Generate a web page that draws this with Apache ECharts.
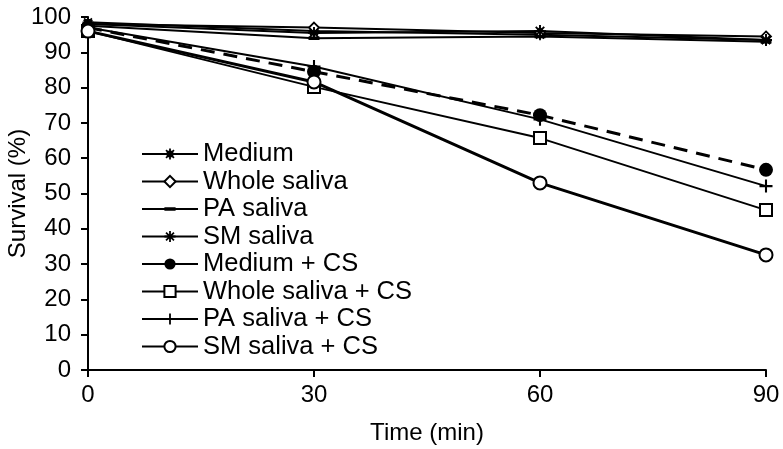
<!DOCTYPE html>
<html>
<head>
<meta charset="utf-8">
<script src="https://cdn.jsdelivr.net/npm/echarts@6/dist/echarts.min.js"></script>
<style>html,body{margin:0;padding:0;background:#fff}#c{width:783px;height:449px}</style>
</head>
<body>
<div id="c"></div>
<script>
const times = [0, 30, 60, 90];
const seriesNames = ["Medium", "Whole saliva", "PA saliva", "SM saliva", "Medium + CS", "Whole saliva + CS", "PA saliva + CS", "SM saliva + CS"];
const medium = [98.5, 96, 95, 93.5];
const wholeSaliva = [98, 97, 95.5, 94.5];
const paSaliva = [97.5, 94, 94.5, 93];
const smSaliva = [98, 95.5, 96, 93.5];
const mediumCS = [97, 84.5, 72.2, 56.7];
const wholeSalivaCS = [96, 80.2, 65.7, 45.3];
const paSalivaCS = [97, 86, 71, 52.1];
const smSalivaCS = [96, 81.6, 53, 32.6];
const yTicks = [0, 10, 20, 30, 40, 50, 60, 70, 80, 90, 100];
const xTicks = [0, 30, 60, 90];

const values = [medium, wholeSaliva, paSaliva, smSaliva, mediumCS, wholeSalivaCS, paSalivaCS, smSalivaCS];
const pairs = v => times.map((t, i) => [t, v[i]]);

const corners = ' M-5,-5L-5,-5Z M5,5L5,5Z';
const asterisk = 'path://M-0.8,-5L0.8,-5L0.8,5L-0.8,5Z M-5,-0.8L5,-0.8L5,0.8L-5,0.8Z M-4.1,-3L-3,-4.1L4.1,3L3,4.1Z M3,-4.1L4.1,-3L-3,4.1L-4.1,3Z';
const mediumSym = 'path://M-3,-3L3,-3L3,3L-3,3Z M-0.8,-5L0.8,-5L0.8,5L-0.8,5Z M-5,-0.8L5,-0.8L5,0.8L-5,0.8Z M-4.1,-3L-3,-4.1L4.1,3L3,4.1Z M3,-4.1L4.1,-3L-3,4.1L-4.1,3Z';
const plusSym = 'path://M-0.8,-5L0.8,-5L0.8,5L-0.8,5Z M-5,-0.8L5,-0.8L5,0.8L-5,0.8Z';
const dashSym = 'path://M-5,-1.6L5,-1.6L5,1.6L-5,1.6Z' + corners;

const styles = [
  {symbol: mediumSym, size: 11, fill: '#000', bw: 0, lw: 2, type: 'solid'},
  {symbol: 'diamond', size: 10, fill: '#fff', bw: 1.8, lw: 2, type: 'solid'},
  {symbol: dashSym, size: 11, fill: '#000', bw: 0, lw: 2, type: 'solid'},
  {symbol: asterisk, size: 12, fill: '#000', bw: 0, lw: 2, type: 'solid'},
  {symbol: 'circle', size: 14, fill: '#000', bw: 0, lw: 3, type: [14, 9]},
  {symbol: 'rect', size: 12, fill: '#fff', bw: 2, lw: 2, type: 'solid'},
  {symbol: plusSym, size: 13, fill: '#000', bw: 0, lw: 2, type: 'solid'},
  {symbol: 'circle', size: 13, fill: '#fff', bw: 2, lw: 3, type: 'solid'}
];

const font = '"Liberation Sans", Arial, Helvetica, sans-serif';

const series = seriesNames.map((n, i) => ({
  name: n,
  type: 'line',
  data: pairs(values[i]),
  symbol: styles[i].symbol,
  symbolSize: styles[i].size,
  showAllSymbol: true,
  itemStyle: {color: styles[i].fill, borderColor: '#000', borderWidth: styles[i].bw, opacity: 1},
  lineStyle: {color: '#000', width: styles[i].lw, type: styles[i].type},
  emphasis: {disabled: true},
  animation: false
}));

const chart = echarts.init(document.getElementById('c'), null, {renderer: 'canvas'});
chart.setOption({
  backgroundColor: '#fff',
  animation: false,
  textStyle: {fontFamily: font},
  grid: {left: 88, right: 17, top: 17, bottom: 79, containLabel: false, outerBoundsMode: 'none'},
  legend: {
    orient: 'vertical',
    left: 141,
    top: 141,
    padding: 0,
    itemWidth: 56,
    itemHeight: 14,
    itemGap: 1.5,
    textStyle: {fontSize: 25.5, color: '#000', fontFamily: font, padding: [0, 0, 0, 0], lineHeight: 24},
    data: seriesNames.map((n, i) => i === 4 ? {name: n, lineStyle: {type: 'solid'}} : {name: n})
  },
  xAxis: {
    type: 'value', min: 0, max: 90, interval: 30,
    name: 'Time (min)', nameLocation: 'middle', nameGap: 51, nameMoveOverlap: false,
    nameTextStyle: {fontSize: 24, color: '#000', fontFamily: font},
    axisLine: {show: true, onZero: false, lineStyle: {color: '#000', width: 2}},
    axisTick: {show: true, inside: false, length: 7, lineStyle: {color: '#000', width: 2}},
    axisLabel: {fontSize: 24, color: '#000', margin: 13, fontFamily: font,
      formatter: v => xTicks.includes(v) ? String(v) : ''},
    splitLine: {show: false}
  },
  yAxis: {
    type: 'value', min: 0, max: 100, interval: 10,
    name: 'Survival (%)', nameLocation: 'middle', nameGap: 58, nameRotate: 90, nameMoveOverlap: false,
    nameTextStyle: {fontSize: 24, color: '#000', fontFamily: font},
    axisLine: {show: true, onZero: false, lineStyle: {color: '#000', width: 2}},
    axisTick: {show: true, inside: false, length: 7, lineStyle: {color: '#000', width: 2}},
    axisLabel: {fontSize: 24, color: '#000', margin: 17, fontFamily: font,
      formatter: v => yTicks.includes(v) ? String(v) : ''},
    splitLine: {show: false}
  },
  series: series
});
</script>
</body>
</html>
